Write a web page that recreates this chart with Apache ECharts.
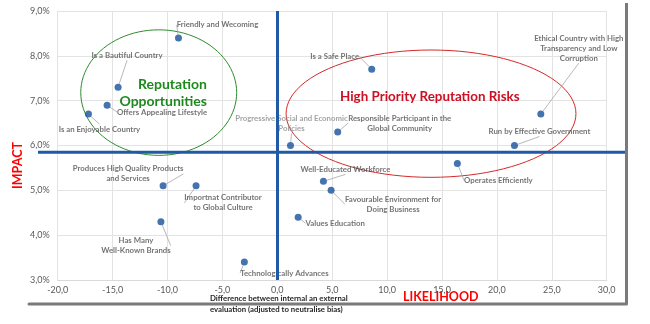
<!DOCTYPE html>
<html><head><meta charset="utf-8">
<script src="https://cdn.jsdelivr.net/npm/echarts@6/dist/echarts.min.js"></script>
<style>html,body{margin:0;padding:0;background:#fff}#c{width:650px;height:324px}</style>
</head><body><div id="c"></div>
<script>
// ---- data ----
const categories = [
  "Friendly and Wecoming",
  "Is a Bautiful Country",
  "Offers Appealing Lifestyle",
  "Is an Enjoyable Country",
  "Is a Safe Place",
  "Progressive Social and Economic\nPolicies",
  "Responsible Participant in the\nGlobal Community",
  "Ethical Country with High\nTransparency and Low\nCorruption",
  "Run by Effective Government",
  "Operates Efficiently",
  "Produces High Quality Products\nand Services",
  "Importnat Contributor\nto Global Culture",
  "Has Many\nWell-Known Brands",
  "Technologically Advances",
  "Well-Educated Workforce",
  "Favourable Environment for\nDoing Business",
  "Values Education"
];
const likelihood = [-9.0, -14.5, -15.5, -17.2, 8.6, 1.2, 5.5, 24.0, 21.6, 16.4, -10.4, -7.4, -10.6, -3.0, 4.2, 4.9, 1.9];
const impact     = [8.4, 7.3, 6.9, 6.7, 7.7, 6.0, 6.3, 6.7, 6.0, 5.6, 5.1, 5.1, 4.3, 3.4, 5.2, 5.0, 4.4];
const impactThreshold = 5.85;
const likelihoodThreshold = 0;
const quadrantTitles = ["Reputation\nOpportunities", "High Priority Reputation Risks"];
const axisTitles = ["IMPACT", "LIKELIHOOD", "Difference between internal an external\nevaluation (adjusted to neutralise bias)"];

// ---- layout (label offsets in px, not data) ----
const labelOffsets = [
  [39,-13],[9,-32],[55,7],[11,15],[-37,-13],[1,-22],[62,-9],[38,-66],[25,-14],
  [41,17],[-35,-12],[27,17],[-25,24],[40,11],[22,-12],[62,14],[37,6]
];
const lightLabels = [5];

const fmt = v => v.toFixed(1).replace('.', ',');
const chart = echarts.init(document.getElementById('c'), null, {renderer:'canvas'});
const FONT = 'Lato';
const points = likelihood.map((x,i)=>{
  const d = {value:[x, impact[i]], name:categories[i]};
  if (lightLabels.includes(i)) d.label = {color:'#8c8c8c'};
  return d;
});

chart.setOption({
  animation:false,
  backgroundColor:'#fff',
  grid:{left:57.7, right:43.3, top:11, bottom:44},
  xAxis:{type:'value', min:-20, max:30, interval:5,
    axisLine:{show:true, onZero:false, lineStyle:{color:'#d9d9d9'}},
    axisTick:{show:false},
    splitLine:{lineStyle:{color:'#e3e3e3'}},
    axisLabel:{formatter:fmt, color:'#595959', fontFamily:FONT, fontSize:9, margin:6}},
  yAxis:{type:'value', min:3, max:9, interval:1,
    axisLine:{show:false, onZero:false},
    axisTick:{show:false},
    splitLine:{lineStyle:{color:'#e3e3e3'}},
    axisLabel:{formatter:v=>fmt(v)+'%', color:'#595959', fontFamily:FONT, fontSize:9, margin:8}},
  series:[{
    type:'scatter', data:points, symbolSize:7, z:4,
    itemStyle:{color:'#15509a'},
    label:{show:true, position:'inside', formatter:p=>p.name, color:'#505050',
      fontFamily:FONT, fontSize:7.8, fontWeight:'bold', lineHeight:10, align:'center'},
    labelLine:{show:true, lineStyle:{color:'#a6a6a6', width:0.8}},
    labelLayout:p=>({dx:labelOffsets[p.dataIndex][0], dy:labelOffsets[p.dataIndex][1]}),
    markLine:{silent:true, symbol:'none', label:{show:false},
      lineStyle:{color:'#1f5aa6', width:3, type:'solid'},
      data:[{xAxis:likelihoodThreshold}]}
  }]
});

function px(x,y){return chart.convertToPixel({gridIndex:0},[x,y]);}
function ellipse(cx,cy,rx,ry){
  const c = px(cx,cy), e = px(cx+rx, cy+ry);
  const a = Math.abs(e[0]-c[0]), b = Math.abs(e[1]-c[1]);
  const pts=[]; for(let i=0;i<=96;i++){const t=i/96*2*Math.PI; pts.push([c[0]+a*Math.cos(t), c[1]+b*Math.sin(t)]);}
  return pts;
}
const hy = px(0, impactThreshold)[1];
chart.setOption({graphic:[
  {type:'polyline', shape:{points:ellipse(-10.8,7.18,7.1,1.40)}, style:{stroke:'#2e8b2e', lineWidth:1, fill:null}, z:1},
  {type:'polyline', shape:{points:ellipse(14.0,6.71,13.2,1.42)}, style:{stroke:'#d42a2a', lineWidth:1, fill:null}, z:1},
  {type:'line', shape:{x1:38, y1:hy, x2:625, y2:hy}, style:{stroke:'#1f5aa6', lineWidth:3}, z:3},
  {type:'line', shape:{x1:626.5, y1:3, x2:626.5, y2:304}, style:{stroke:'#7a7a7a', lineWidth:3}, z:3},
  {type:'line', shape:{x1:29, y1:304, x2:626.5, y2:304}, style:{stroke:'#7a7a7a', lineWidth:3, lineCap:'round'}, z:3},
  {type:'text', x:207, y:92.5, style:{text:quadrantTitles[0], fill:'#1e8a1e', font:'bold 14px Lato', textAlign:'right', textVerticalAlign:'middle', lineHeight:17}, z:5},
  {type:'text', x:340, y:97, style:{text:quadrantTitles[1], fill:'#cc0f22', font:'bold 13.4px Lato', textAlign:'left', textVerticalAlign:'middle'}, z:5},
  {type:'text', x:18, y:165.5, rotation:Math.PI/2, style:{text:axisTitles[0], fill:'#ff0000', font:'bold 12.5px Lato', textAlign:'center', textVerticalAlign:'middle'}, z:5},
  {type:'text', x:403, y:297, style:{text:axisTitles[1], fill:'#ff0000', font:'bold 12.5px Lato', textAlign:'left', textVerticalAlign:'middle'}, z:5},
  {type:'text', x:210, y:303.5, style:{text:axisTitles[2], fill:'#262626', font:'bold 7.8px Lato', textAlign:'left', textVerticalAlign:'middle', lineHeight:11}, z:5}
]});
</script></body></html>
